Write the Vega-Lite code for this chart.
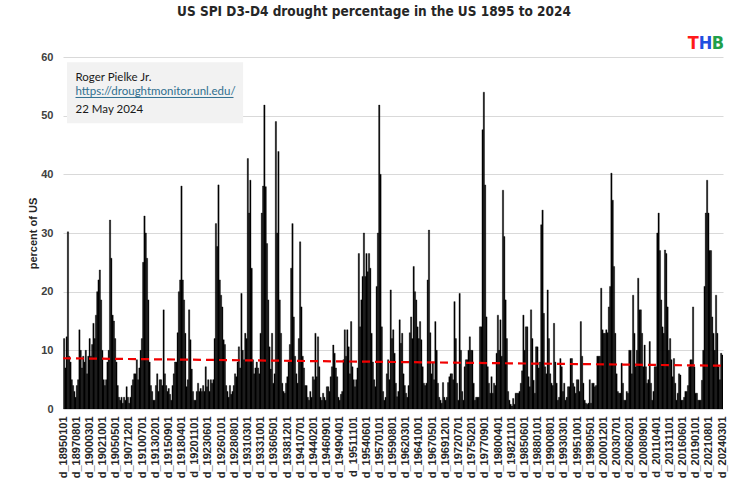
{
  "$schema": "https://vega.github.io/schema/vega-lite/v6.json",
  "width": 660,
  "height": 352,
  "autosize": "none",
  "padding": {"left": 63, "top": 57, "right": 16, "bottom": 76},
  "background": "white",
  "title": {
    "text": "US SPI D3-D4 drought percentage in the US 1895 to 2024",
    "anchor": "middle",
    "frame": "group",
    "dx": -19,
    "offset": 16,
    "font": "DejaVu Sans Condensed, sans-serif",
    "fontSize": 13.5,
    "fontWeight": "bold",
    "color": "#262626"
  },
  "config": {
    "view": {"stroke": null},
    "axis": {"labelOverlap": false},
    "axisX": {"labelOverlap": false, "labelFlush": false, "labelBound": false, "labelSeparation": 0, "tickCount": 200}
  },
  "data": {"values": [
{"d":"1895-01","v":12},{"d":"1895-04","v":7},{"d":"1895-07","v":12.3},{"d":"1895-10","v":30.2},
{"d":"1896-01","v":9},{"d":"1896-04","v":8},{"d":"1896-07","v":5},{"d":"1896-10","v":4},
{"d":"1897-01","v":3},{"d":"1897-04","v":2},{"d":"1897-07","v":4},{"d":"1897-10","v":5},
{"d":"1898-01","v":13.5},{"d":"1898-04","v":10},{"d":"1898-07","v":7},{"d":"1898-10","v":9},
{"d":"1899-01","v":8},{"d":"1899-04","v":10},{"d":"1899-07","v":6},{"d":"1899-10","v":9},
{"d":"1900-01","v":12},{"d":"1900-04","v":9},{"d":"1900-07","v":11},{"d":"1900-10","v":14.6},
{"d":"1901-01","v":12},{"d":"1901-04","v":16},{"d":"1901-07","v":20},{"d":"1901-10","v":22},
{"d":"1902-01","v":23.7},{"d":"1902-04","v":18.6},{"d":"1902-07","v":10},{"d":"1902-10","v":5},
{"d":"1903-01","v":4},{"d":"1903-04","v":5},{"d":"1903-07","v":8},{"d":"1903-10","v":10},
{"d":"1904-01","v":32.2},{"d":"1904-04","v":25.7},{"d":"1904-07","v":16},{"d":"1904-10","v":15},
{"d":"1905-01","v":12},{"d":"1905-04","v":8},{"d":"1905-07","v":4},{"d":"1905-10","v":2},
{"d":"1906-01","v":1.5},{"d":"1906-04","v":2},{"d":"1906-07","v":1},{"d":"1906-10","v":2},
{"d":"1907-01","v":1.5},{"d":"1907-04","v":3.8},{"d":"1907-07","v":2},{"d":"1907-10","v":1},
{"d":"1908-01","v":2},{"d":"1908-04","v":4},{"d":"1908-07","v":5},{"d":"1908-10","v":6},
{"d":"1909-01","v":6},{"d":"1909-04","v":8.4},{"d":"1909-07","v":5},{"d":"1909-10","v":7},
{"d":"1910-01","v":10},{"d":"1910-04","v":12},{"d":"1910-07","v":25},{"d":"1910-10","v":32.9},
{"d":"1911-01","v":30},{"d":"1911-04","v":25.7},{"d":"1911-07","v":18.6},{"d":"1911-10","v":8},
{"d":"1912-01","v":4},{"d":"1912-04","v":3},{"d":"1912-07","v":1.5},{"d":"1912-10","v":1.5},
{"d":"1913-01","v":4},{"d":"1913-04","v":6},{"d":"1913-07","v":3},{"d":"1913-10","v":5},
{"d":"1914-01","v":5},{"d":"1914-04","v":4},{"d":"1914-07","v":16.9},{"d":"1914-10","v":6},
{"d":"1915-01","v":4},{"d":"1915-04","v":3},{"d":"1915-07","v":3.5},{"d":"1915-10","v":2.5},
{"d":"1916-01","v":1.5},{"d":"1916-04","v":4},{"d":"1916-07","v":6},{"d":"1916-10","v":8},
{"d":"1917-01","v":8},{"d":"1917-04","v":13},{"d":"1917-07","v":20},{"d":"1917-10","v":22},
{"d":"1918-01","v":38},{"d":"1918-04","v":22},{"d":"1918-07","v":18.6},{"d":"1918-10","v":12.9},
{"d":"1919-01","v":3.8},{"d":"1919-04","v":5},{"d":"1919-07","v":16.9},{"d":"1919-10","v":11.8},
{"d":"1920-01","v":6.8},{"d":"1920-04","v":3},{"d":"1920-07","v":1.5},{"d":"1920-10","v":1.5},
{"d":"1921-01","v":3},{"d":"1921-04","v":4.4},{"d":"1921-07","v":3},{"d":"1921-10","v":3.5},
{"d":"1922-01","v":3},{"d":"1922-04","v":4},{"d":"1922-07","v":3},{"d":"1922-10","v":7.2},
{"d":"1923-01","v":3.8},{"d":"1923-04","v":5},{"d":"1923-07","v":3},{"d":"1923-10","v":5},
{"d":"1924-01","v":4.4},{"d":"1924-04","v":5},{"d":"1924-07","v":12},{"d":"1924-10","v":31.6},
{"d":"1925-01","v":27.7},{"d":"1925-04","v":38.2},{"d":"1925-07","v":22},{"d":"1925-10","v":19.4},
{"d":"1926-01","v":17.4},{"d":"1926-04","v":11.8},{"d":"1926-07","v":11},{"d":"1926-10","v":4},
{"d":"1927-01","v":3},{"d":"1927-04","v":2},{"d":"1927-07","v":4},{"d":"1927-10","v":2.5},
{"d":"1928-01","v":3},{"d":"1928-04","v":4},{"d":"1928-07","v":6},{"d":"1928-10","v":5.5},
{"d":"1929-01","v":8},{"d":"1929-04","v":10.6},{"d":"1929-07","v":7},{"d":"1929-10","v":19.7},
{"d":"1930-01","v":10},{"d":"1930-04","v":8.4},{"d":"1930-07","v":12.9},{"d":"1930-10","v":12},
{"d":"1931-01","v":42.7},{"d":"1931-04","v":33.4},{"d":"1931-07","v":39},{"d":"1931-10","v":24},
{"d":"1932-01","v":8.4},{"d":"1932-04","v":6},{"d":"1932-07","v":7},{"d":"1932-10","v":8},
{"d":"1933-01","v":7},{"d":"1933-04","v":6},{"d":"1933-07","v":12.9},{"d":"1933-10","v":33.4},
{"d":"1934-01","v":38},{"d":"1934-04","v":51.8},{"d":"1934-07","v":37.9},{"d":"1934-10","v":28.2},
{"d":"1935-01","v":18.6},{"d":"1935-04","v":10.6},{"d":"1935-07","v":6.8},{"d":"1935-10","v":12.9},
{"d":"1936-01","v":4.4},{"d":"1936-04","v":6},{"d":"1936-07","v":49},{"d":"1936-10","v":30},
{"d":"1937-01","v":43.9},{"d":"1937-04","v":18.6},{"d":"1937-07","v":12.9},{"d":"1937-10","v":4.4},
{"d":"1938-01","v":3},{"d":"1938-04","v":2.7},{"d":"1938-07","v":4.4},{"d":"1938-10","v":5.5},
{"d":"1939-01","v":8},{"d":"1939-04","v":11},{"d":"1939-07","v":24},{"d":"1939-10","v":31.6},
{"d":"1940-01","v":15.7},{"d":"1940-04","v":9},{"d":"1940-07","v":6},{"d":"1940-10","v":4.4},
{"d":"1941-01","v":12},{"d":"1941-04","v":28.5},{"d":"1941-07","v":17.4},{"d":"1941-10","v":9},
{"d":"1942-01","v":7},{"d":"1942-04","v":4},{"d":"1942-07","v":4},{"d":"1942-10","v":2},
{"d":"1943-01","v":1.5},{"d":"1943-04","v":3},{"d":"1943-07","v":2},{"d":"1943-10","v":5.5},
{"d":"1944-01","v":5},{"d":"1944-04","v":12.9},{"d":"1944-07","v":5.5},{"d":"1944-10","v":12.3},
{"d":"1945-01","v":7.2},{"d":"1945-04","v":2},{"d":"1945-07","v":1.5},{"d":"1945-10","v":2.7},
{"d":"1946-01","v":2},{"d":"1946-04","v":1.5},{"d":"1946-07","v":3.8},{"d":"1946-10","v":3.8},
{"d":"1947-01","v":3},{"d":"1947-04","v":5.5},{"d":"1947-07","v":7.2},{"d":"1947-10","v":10.9},
{"d":"1948-01","v":9.5},{"d":"1948-04","v":7},{"d":"1948-07","v":5.5},{"d":"1948-10","v":2},
{"d":"1949-01","v":1.5},{"d":"1949-04","v":2.5},{"d":"1949-07","v":3},{"d":"1949-10","v":8.4},
{"d":"1950-01","v":13.5},{"d":"1950-04","v":9},{"d":"1950-07","v":13.5},{"d":"1950-10","v":10.6},
{"d":"1951-01","v":6},{"d":"1951-04","v":14.9},{"d":"1951-07","v":7.2},{"d":"1951-10","v":5},
{"d":"1952-01","v":3.8},{"d":"1952-04","v":5},{"d":"1952-07","v":7},{"d":"1952-10","v":26.5},
{"d":"1953-01","v":14},{"d":"1953-04","v":18.6},{"d":"1953-07","v":22.6},{"d":"1953-10","v":30},
{"d":"1954-01","v":22.6},{"d":"1954-04","v":26.5},{"d":"1954-07","v":23.4},{"d":"1954-10","v":26.5},
{"d":"1955-01","v":24},{"d":"1955-04","v":12.9},{"d":"1955-07","v":8},{"d":"1955-10","v":5},
{"d":"1956-01","v":3.8},{"d":"1956-04","v":20.9},{"d":"1956-07","v":30},{"d":"1956-10","v":51.8},
{"d":"1957-01","v":40},{"d":"1957-04","v":14},{"d":"1957-07","v":3},{"d":"1957-10","v":1.5},
{"d":"1958-01","v":2},{"d":"1958-04","v":6},{"d":"1958-07","v":8.4},{"d":"1958-10","v":5},
{"d":"1959-01","v":20.3},{"d":"1959-04","v":12},{"d":"1959-07","v":13.5},{"d":"1959-10","v":9.5},
{"d":"1960-01","v":4.4},{"d":"1960-04","v":2.1},{"d":"1960-07","v":3},{"d":"1960-10","v":15.2},
{"d":"1961-01","v":11.2},{"d":"1961-04","v":12.9},{"d":"1961-07","v":6},{"d":"1961-10","v":4},
{"d":"1962-01","v":2.7},{"d":"1962-04","v":2},{"d":"1962-07","v":4},{"d":"1962-10","v":13},
{"d":"1963-01","v":15.7},{"d":"1963-04","v":12},{"d":"1963-07","v":24.3},{"d":"1963-10","v":20},
{"d":"1964-01","v":18.6},{"d":"1964-04","v":14},{"d":"1964-07","v":12},{"d":"1964-10","v":14.9},
{"d":"1965-01","v":11.8},{"d":"1965-04","v":7.2},{"d":"1965-07","v":4.4},{"d":"1965-10","v":4},
{"d":"1966-01","v":4.4},{"d":"1966-04","v":22},{"d":"1966-07","v":30.5},{"d":"1966-10","v":13},
{"d":"1967-01","v":6},{"d":"1967-04","v":8},{"d":"1967-07","v":5},{"d":"1967-10","v":14.9},
{"d":"1968-01","v":10},{"d":"1968-04","v":4.4},{"d":"1968-07","v":2},{"d":"1968-10","v":1.5},
{"d":"1969-01","v":1},{"d":"1969-04","v":4.5},{"d":"1969-07","v":2},{"d":"1969-10","v":1.5},
{"d":"1970-01","v":2},{"d":"1970-04","v":4.5},{"d":"1970-07","v":5.5},{"d":"1970-10","v":6},
{"d":"1971-01","v":6},{"d":"1971-04","v":5},{"d":"1971-07","v":18.3},{"d":"1971-10","v":12},
{"d":"1972-01","v":4.4},{"d":"1972-04","v":1.5},{"d":"1972-07","v":19.7},{"d":"1972-10","v":10},
{"d":"1973-01","v":3},{"d":"1973-04","v":1.5},{"d":"1973-07","v":7.2},{"d":"1973-10","v":8.4},
{"d":"1974-01","v":8.4},{"d":"1974-04","v":10},{"d":"1974-07","v":12.3},{"d":"1974-10","v":10},
{"d":"1975-01","v":10},{"d":"1975-04","v":4.4},{"d":"1975-07","v":1.5},{"d":"1975-10","v":2},
{"d":"1976-01","v":2},{"d":"1976-04","v":2},{"d":"1976-07","v":14},{"d":"1976-10","v":14},
{"d":"1977-01","v":47.6},{"d":"1977-04","v":54},{"d":"1977-07","v":38.2},{"d":"1977-10","v":15.7},
{"d":"1978-01","v":7.2},{"d":"1978-04","v":4.4},{"d":"1978-07","v":2.7},{"d":"1978-10","v":5.5},
{"d":"1979-01","v":2.7},{"d":"1979-04","v":4.4},{"d":"1979-07","v":4},{"d":"1979-10","v":9.5},
{"d":"1980-01","v":16},{"d":"1980-04","v":10},{"d":"1980-07","v":15.2},{"d":"1980-10","v":9},
{"d":"1981-01","v":37.3},{"d":"1981-04","v":29.4},{"d":"1981-07","v":18.6},{"d":"1981-10","v":12},
{"d":"1982-01","v":3},{"d":"1982-04","v":1.5},{"d":"1982-07","v":0.8},{"d":"1982-10","v":0.5},
{"d":"1983-01","v":1.8},{"d":"1983-04","v":0.8},{"d":"1983-07","v":2.7},{"d":"1983-10","v":2.7},
{"d":"1984-01","v":2.7},{"d":"1984-04","v":3},{"d":"1984-07","v":4.4},{"d":"1984-10","v":6.5},
{"d":"1985-01","v":16},{"d":"1985-04","v":10},{"d":"1985-07","v":14},{"d":"1985-10","v":14},
{"d":"1986-01","v":5.5},{"d":"1986-04","v":3.8},{"d":"1986-07","v":16.9},{"d":"1986-10","v":12},
{"d":"1987-01","v":4.9},{"d":"1987-04","v":2.7},{"d":"1987-07","v":10.6},{"d":"1987-10","v":10.6},
{"d":"1988-01","v":7},{"d":"1988-04","v":8},{"d":"1988-07","v":31.4},{"d":"1988-10","v":33.9},
{"d":"1989-01","v":16.3},{"d":"1989-04","v":7.2},{"d":"1989-07","v":6},{"d":"1989-10","v":20.3},
{"d":"1990-01","v":12},{"d":"1990-04","v":6},{"d":"1990-07","v":4.4},{"d":"1990-10","v":4},
{"d":"1991-01","v":14.6},{"d":"1991-04","v":8},{"d":"1991-07","v":4.4},{"d":"1991-10","v":1.5},
{"d":"1992-01","v":2},{"d":"1992-04","v":8.6},{"d":"1992-07","v":7.2},{"d":"1992-10","v":3},
{"d":"1993-01","v":4.4},{"d":"1993-04","v":1.5},{"d":"1993-07","v":2},{"d":"1993-10","v":3.8},
{"d":"1994-01","v":3.8},{"d":"1994-04","v":8.6},{"d":"1994-07","v":8.6},{"d":"1994-10","v":4.4},
{"d":"1995-01","v":3.8},{"d":"1995-04","v":2.7},{"d":"1995-07","v":5},{"d":"1995-10","v":5},
{"d":"1996-01","v":3},{"d":"1996-04","v":14.9},{"d":"1996-07","v":9},{"d":"1996-10","v":4.4},
{"d":"1997-01","v":1.5},{"d":"1997-04","v":1},{"d":"1997-07","v":0.8},{"d":"1997-10","v":1},
{"d":"1998-01","v":5},{"d":"1998-04","v":1},{"d":"1998-07","v":4.4},{"d":"1998-10","v":4.4},
{"d":"1999-01","v":3.8},{"d":"1999-04","v":4},{"d":"1999-07","v":9},{"d":"1999-10","v":9},
{"d":"2000-01","v":9},{"d":"2000-04","v":20.6},{"d":"2000-07","v":13.5},{"d":"2000-10","v":12.9},
{"d":"2001-01","v":12.9},{"d":"2001-04","v":13.5},{"d":"2001-07","v":13},{"d":"2001-10","v":17.4},
{"d":"2002-01","v":20.9},{"d":"2002-04","v":40.2},{"d":"2002-07","v":35.6},{"d":"2002-10","v":24.3},
{"d":"2003-01","v":12.9},{"d":"2003-04","v":6},{"d":"2003-07","v":3},{"d":"2003-10","v":2.7},
{"d":"2004-01","v":2.7},{"d":"2004-04","v":7.8},{"d":"2004-07","v":4.4},{"d":"2004-10","v":1.5},
{"d":"2005-01","v":1.5},{"d":"2005-04","v":3},{"d":"2005-07","v":2.7},{"d":"2005-10","v":10},
{"d":"2006-01","v":10},{"d":"2006-04","v":6},{"d":"2006-07","v":19.4},{"d":"2006-10","v":12.9},
{"d":"2007-01","v":7.2},{"d":"2007-04","v":10},{"d":"2007-07","v":22.3},{"d":"2007-10","v":16.9},
{"d":"2008-01","v":16.9},{"d":"2008-04","v":12.9},{"d":"2008-07","v":7.2},{"d":"2008-10","v":10.9},
{"d":"2009-01","v":7.2},{"d":"2009-04","v":4.4},{"d":"2009-07","v":5},{"d":"2009-10","v":11.5},
{"d":"2010-01","v":4.4},{"d":"2010-04","v":1.5},{"d":"2010-07","v":3},{"d":"2010-10","v":7.2},
{"d":"2011-01","v":7.2},{"d":"2011-04","v":30},{"d":"2011-07","v":33.4},{"d":"2011-10","v":27},
{"d":"2012-01","v":18.6},{"d":"2012-04","v":14},{"d":"2012-07","v":12.9},{"d":"2012-10","v":27.1},
{"d":"2013-01","v":26.5},{"d":"2013-04","v":17.4},{"d":"2013-07","v":10},{"d":"2013-10","v":12},
{"d":"2014-01","v":8.4},{"d":"2014-04","v":5.5},{"d":"2014-07","v":8.6},{"d":"2014-10","v":4.4},
{"d":"2015-01","v":1.5},{"d":"2015-04","v":2.7},{"d":"2015-07","v":6},{"d":"2015-10","v":5.8},
{"d":"2016-01","v":1.5},{"d":"2016-04","v":1.5},{"d":"2016-07","v":2},{"d":"2016-10","v":3},
{"d":"2017-01","v":3},{"d":"2017-04","v":4},{"d":"2017-07","v":7.2},{"d":"2017-10","v":8.4},
{"d":"2018-01","v":8.4},{"d":"2018-04","v":17.4},{"d":"2018-07","v":7.2},{"d":"2018-10","v":2.7},
{"d":"2019-01","v":2.7},{"d":"2019-04","v":1.5},{"d":"2019-07","v":1.5},{"d":"2019-10","v":1.5},
{"d":"2020-01","v":4.9},{"d":"2020-04","v":10},{"d":"2020-07","v":20.9},{"d":"2020-10","v":33.4},
{"d":"2021-01","v":39},{"d":"2021-04","v":33.4},{"d":"2021-07","v":27},{"d":"2021-10","v":27},
{"d":"2022-01","v":15.7},{"d":"2022-04","v":12.9},{"d":"2022-07","v":10},{"d":"2022-10","v":19.4},
{"d":"2023-01","v":12.9},{"d":"2023-04","v":7.2},{"d":"2023-07","v":5},{"d":"2023-10","v":9.5},
{"d":"2024-01","v":9.2},{"d":"2024-04","v":8.7}
  ]},
  "layer": [
    {
      "mark": {"type": "bar", "color": "#000000", "stroke": "#000000", "strokeWidth": 0.35, "clip": true, "binSpacing": 0, "timeUnitBandSize": 1, "timeUnitBandPosition": 0},
      "encoding": {
        "x": {
          "field": "d", "type": "temporal", "timeUnit": "utcyearquarter", "title": null,
          "scale": {"type": "utc", "domain": [{"year": 1895, "month": 1, "date": 1, "utc": true}, {"year": 2024, "month": 5, "date": 1, "utc": true}]},
          "axis": {
            "values": [
              {"year":1895,"month":1,"date":1,"utc":true},{"year":1897,"month":8,"date":1,"utc":true},{"year":1900,"month":3,"date":1,"utc":true},
              {"year":1902,"month":10,"date":1,"utc":true},{"year":1905,"month":5,"date":1,"utc":true},{"year":1907,"month":12,"date":1,"utc":true},
              {"year":1910,"month":7,"date":1,"utc":true},{"year":1913,"month":2,"date":1,"utc":true},{"year":1915,"month":9,"date":1,"utc":true},
              {"year":1918,"month":4,"date":1,"utc":true},{"year":1920,"month":11,"date":1,"utc":true},{"year":1923,"month":6,"date":1,"utc":true},
              {"year":1926,"month":1,"date":1,"utc":true},{"year":1928,"month":8,"date":1,"utc":true},{"year":1931,"month":3,"date":1,"utc":true},
              {"year":1933,"month":10,"date":1,"utc":true},{"year":1936,"month":5,"date":1,"utc":true},{"year":1938,"month":12,"date":1,"utc":true},
              {"year":1941,"month":7,"date":1,"utc":true},{"year":1944,"month":2,"date":1,"utc":true},{"year":1946,"month":9,"date":1,"utc":true},
              {"year":1949,"month":4,"date":1,"utc":true},{"year":1951,"month":11,"date":1,"utc":true},{"year":1954,"month":6,"date":1,"utc":true},
              {"year":1957,"month":1,"date":1,"utc":true},{"year":1959,"month":8,"date":1,"utc":true},{"year":1962,"month":3,"date":1,"utc":true},
              {"year":1964,"month":10,"date":1,"utc":true},{"year":1967,"month":5,"date":1,"utc":true},{"year":1969,"month":12,"date":1,"utc":true},
              {"year":1972,"month":7,"date":1,"utc":true},{"year":1975,"month":2,"date":1,"utc":true},{"year":1977,"month":9,"date":1,"utc":true},
              {"year":1980,"month":4,"date":1,"utc":true},{"year":1982,"month":11,"date":1,"utc":true},{"year":1985,"month":6,"date":1,"utc":true},
              {"year":1988,"month":1,"date":1,"utc":true},{"year":1990,"month":8,"date":1,"utc":true},{"year":1993,"month":3,"date":1,"utc":true},
              {"year":1995,"month":10,"date":1,"utc":true},{"year":1998,"month":5,"date":1,"utc":true},{"year":2000,"month":12,"date":1,"utc":true},
              {"year":2003,"month":7,"date":1,"utc":true},{"year":2006,"month":2,"date":1,"utc":true},{"year":2008,"month":9,"date":1,"utc":true},
              {"year":2011,"month":4,"date":1,"utc":true},{"year":2013,"month":11,"date":1,"utc":true},{"year":2016,"month":6,"date":1,"utc":true},
              {"year":2019,"month":1,"date":1,"utc":true},{"year":2021,"month":8,"date":1,"utc":true},{"year":2024,"month":3,"date":1,"utc":true}
            ],
            "tickCount": 200,
            "labelExpr": "'d_' + utcFormat(datum.value, '%Y%m%d')",
            "labelAngle": -90,
            "labelFlush": false,
            "labelOverlap": false,
            "labelBound": false,
            "ticks": false,
            "domain": false,
            "grid": false,
            "labelPadding": 7,
            "labelFont": "Liberation Sans",
            "labelFontSize": 11,
            "labelFontWeight": "bold",
            "labelColor": "#262626"
          }
        },
        "y": {
          "field": "v", "type": "quantitative", "title": "percent of US",
          "scale": {"domain": [0, 60], "nice": false},
          "axis": {
            "values": [0, 10, 20, 30, 40, 50, 60],
            "ticks": false,
            "domain": false,
            "grid": true,
            "gridColor": "#d9d9d9",
            "gridWidth": 1,
            "labelPadding": 10,
            "labelFont": "Liberation Sans",
            "labelFontSize": 11,
            "labelFontWeight": "bold",
            "labelColor": "#404040",
            "titleFont": "Liberation Sans",
            "titleFontSize": 11,
            "titleFontWeight": "bold",
            "titleColor": "#262626",
            "titlePadding": 2
          }
        }
      }
    },
    {
      "data": {"values": [{"d": "1895-01-01", "v": 8.65}, {"d": "2024-05-01", "v": 7.38}]},
      "mark": {"type": "line", "color": "#f00000", "strokeWidth": 2.2, "strokeDash": [8, 5]},
      "encoding": {
        "x": {"field": "d", "type": "temporal", "title": null},
        "y": {"field": "v", "type": "quantitative", "title": "percent of US"}
      }
    },
    {
      "data": {"values": [{}]},
      "mark": {"type": "rect", "color": "#f2f2f2"},
      "encoding": {
        "x": {"datum": {"year": 1895, "month": 10, "date": 12, "utc": true}, "type": "temporal"},
        "x2": {"datum": {"year": 1930, "month": 4, "date": 20, "utc": true}},
        "y": {"datum": 48.7, "type": "quantitative"},
        "y2": {"datum": 59.1}
      }
    },
    {
      "data": {"values": [{}]},
      "mark": {"type": "text", "text": "Roger Pielke Jr.", "align": "left", "baseline": "alphabetic", "font": "Lato", "fontSize": 11.5, "color": "#1a1a1a"},
      "encoding": {
        "x": {"datum": {"year": 1897, "month": 6, "date": 15, "utc": true}, "type": "temporal"},
        "y": {"datum": 55.93, "type": "quantitative"}
      }
    },
    {
      "data": {"values": [{}]},
      "mark": {"type": "text", "text": "https://droughtmonitor.unl.edu/", "align": "left", "baseline": "alphabetic", "font": "Lato", "fontSize": 11.5, "color": "#2f6f8f"},
      "encoding": {
        "x": {"datum": {"year": 1897, "month": 6, "date": 15, "utc": true}, "type": "temporal"},
        "y": {"datum": 53.49, "type": "quantitative"}
      }
    },
    {
      "data": {"values": [{}]},
      "mark": {"type": "rule", "color": "#2f6f8f", "strokeWidth": 1},
      "encoding": {
        "x": {"datum": {"year": 1897, "month": 6, "date": 15, "utc": true}, "type": "temporal"},
        "x2": {"datum": {"year": 1928, "month": 6, "date": 1, "utc": true}},
        "y": {"datum": 53.1, "type": "quantitative"}
      }
    },
    {
      "data": {"values": [{}]},
      "mark": {"type": "text", "text": "22 May 2024", "align": "left", "baseline": "alphabetic", "font": "Lato", "fontSize": 11.5, "color": "#1a1a1a"},
      "encoding": {
        "x": {"datum": {"year": 1897, "month": 6, "date": 15, "utc": true}, "type": "temporal"},
        "y": {"datum": 50.37, "type": "quantitative"}
      }
    },
    {
      "data": {"values": [{}]},
      "mark": {"type": "text", "text": "T", "align": "center", "baseline": "alphabetic", "font": "DejaVu Sans Condensed, sans-serif", "fontSize": 18, "fontWeight": "bold", "color": "#ff1a1a"},
      "encoding": {
        "x": {"datum": {"year": 2018, "month": 7, "date": 1, "utc": true}, "type": "temporal"},
        "y": {"datum": 61.4, "type": "quantitative"}
      }
    },
    {
      "data": {"values": [{}]},
      "mark": {"type": "text", "text": "H", "align": "center", "baseline": "alphabetic", "font": "DejaVu Sans Condensed, sans-serif", "fontSize": 18, "fontWeight": "bold", "color": "#1f4fe0"},
      "encoding": {
        "x": {"datum": {"year": 2020, "month": 12, "date": 1, "utc": true}, "type": "temporal"},
        "y": {"datum": 61.4, "type": "quantitative"}
      }
    },
    {
      "data": {"values": [{}]},
      "mark": {"type": "text", "text": "B", "align": "center", "baseline": "alphabetic", "font": "DejaVu Sans Condensed, sans-serif", "fontSize": 18, "fontWeight": "bold", "color": "#1fa04a"},
      "encoding": {
        "x": {"datum": {"year": 2023, "month": 5, "date": 1, "utc": true}, "type": "temporal"},
        "y": {"datum": 61.4, "type": "quantitative"}
      }
    }
  ]
}
